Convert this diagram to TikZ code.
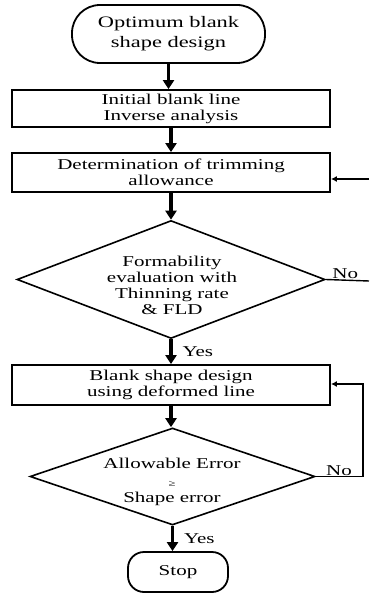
\documentclass[tikz,border=0pt]{standalone}
\usepackage{fontspec}
\setmainfont{Liberation Serif}[FakeStretch=1.4]
\usepackage{tikz}
\usetikzlibrary{arrows.meta,shapes.geometric}

\begin{document}
\begin{tikzpicture}[x=1pt,y=-1pt]
    % Styles
    \tikzstyle{fleche}=[-{Triangle[length=9pt,width=11pt]},line width=3.2pt]
    \tikzstyle{retour}=[-{Latex[length=6pt,width=6pt]},line width=1.4pt]
    \tikzstyle{boite}=[draw,line width=1.8pt,minimum width=318pt,inner sep=0pt,align=center,font=\fontsize{15}{16}\selectfont]
    \tikzstyle{arrondi}=[draw,line width=1.8pt,inner sep=0pt,align=center]
    \tikzstyle{losange}=[draw,diamond,line width=1.6pt,inner sep=0pt]
    \tikzstyle{texte}=[align=center,inner sep=0pt,font=\fontsize{15}{16}\selectfont]
    \tikzstyle{etiquette}=[inner sep=1pt,font=\fontsize{15}{16}\selectfont]
    % Cadre
    \useasboundingbox (0,0) rectangle (369,593);
    % Noeuds
    \node[arrondi,rounded corners=28pt,minimum width=193pt,minimum height=58pt,
          font=\fontsize{16}{20}\selectfont] (debut) at (168.5,34) {Optimum blank\\shape design};
    \node[boite,minimum height=37pt] (init) at (171,108.5) {Initial blank line\\Inverse analysis};
    \node[boite,minimum height=39pt] (trim) at (171,172.5) {Determination of trimming\\allowance};
    \node[losange,minimum width=308pt,minimum height=118pt] (form) at (171,279.5) {};
    \node[texte] (formT) at (172,285) {Formability\\evaluation with\\Thinning rate\\\& FLD};
    \node[boite,minimum height=40pt] (blank) at (171,385) {Blank shape design\\using deformed line};
    \node[losange,minimum width=285pt,minimum height=97pt] (erreur) at (172.5,476.5) {};
    \node[texte] (erreurT) at (172,482) {Allowable Error\\[2pt]{\fontsize{9}{9}\selectfont ≥}\\Shape error};
    \node[arrondi,rounded corners=16pt,minimum width=100pt,minimum height=40pt,
          font=\fontsize{15}{16}\selectfont] (stop) at (178,572) {Stop};
    \coordinate (entreeA) at (369,179);
    \coordinate (sortieA) at (369,281);
    \coordinate (coin) at (363,384);
    % Arcs
    \draw[fleche] (debut.south) -- (debut.south |- init.north);
    \draw[fleche] (init.south) -- (init.south |- trim.north);
    \draw[fleche] (trim.south) -- (form.north);
    \draw[fleche] (form.south) -- (form.south |- blank.north)
        node[etiquette,right,midway,xshift=9pt] {Yes};
    \draw[fleche] (blank.south) -- (blank.south |- erreur.north);
    \draw[fleche] (erreur.south) -- (erreur.south |- stop.north)
        node[etiquette,right,midway,xshift=9pt] {Yes};
    \draw[retour] (entreeA) -- (entreeA -| trim.east);
    \draw[line width=1.4pt] (form.east) -- (sortieA)
        node[etiquette,above,pos=0.45] {No};
    \draw[retour] (erreur.east) -| (coin) -- (coin -| blank.east);
    \node[etiquette,above] (nonB) at (339,476.5) {No};
\end{tikzpicture}
\end{document}
